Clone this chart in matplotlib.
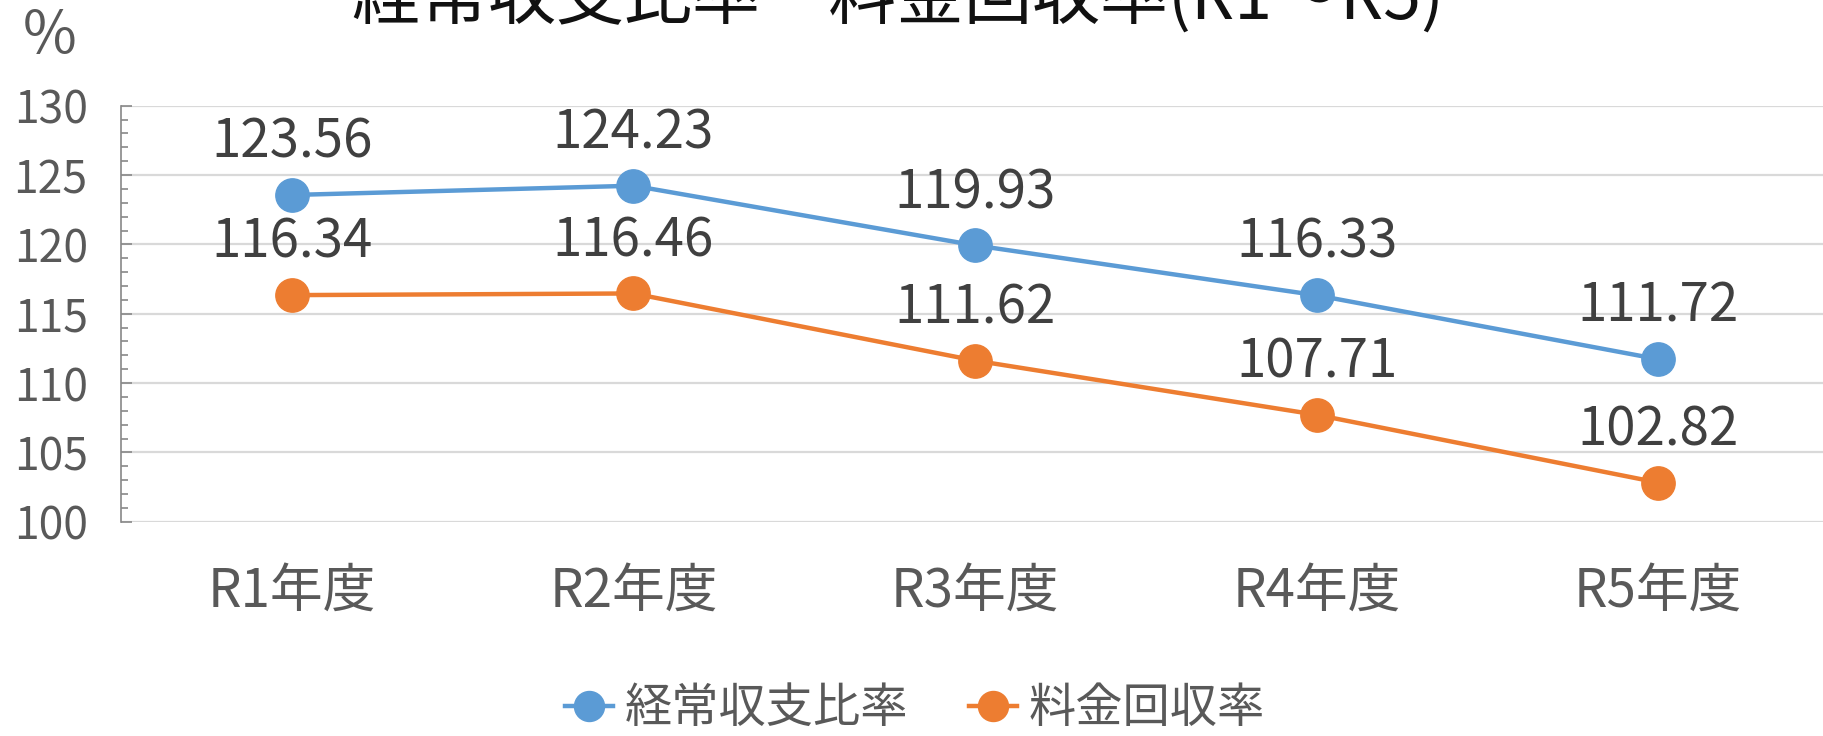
import matplotlib
matplotlib.use('Agg')
import matplotlib.pyplot as plt
from matplotlib.ticker import MultipleLocator

plt.rcParams['font.family'] = ['Noto Sans CJK JP', 'DejaVu Sans']

# data
years = ['R1年度', 'R2年度', 'R3年度', 'R4年度', 'R5年度']
keijo = [123.56, 124.23, 119.93, 116.33, 111.72]
ryokin = [116.34, 116.46, 111.62, 107.71, 102.82]
series_names = ['経常収支比率', '料金回収率']
title = '経常収支比率　料金回収率(R1～R5)'

blue = '#5B9BD5'
orange = '#ED7D31'
grid_clr = '#D9D9D9'
tick_clr = '#595959'
label_clr = '#404040'

fig = plt.figure(figsize=(18.24, 7.36), dpi=100)
# plot area: x 121..1829 px, y 105.7..521.7 px (from top)
ax = fig.add_axes([121 / 1824, (736 - 521.7) / 736, 1708 / 1824, 416 / 736])

x = list(range(len(years)))
for vals, clr, name in [(keijo, blue, series_names[0]), (ryokin, orange, series_names[1])]:
    ax.plot(x, vals, color=clr, lw=3.2, marker='o', ms=24, mec=clr, mfc=clr,
            label=name, zorder=3, clip_on=False)
    for xi, v in zip(x, vals):
        ax.annotate(f'{v:.2f}', (xi, v), xytext=(0, 38), textcoords='offset points',
                    ha='center', va='center', fontsize=38, color=label_clr)

ax.set_xlim(-0.5, len(years) - 0.5)
ax.set_ylim(100, 130)
ax.set_xticks(x)
ax.set_xticklabels(years)
ax.yaxis.set_major_locator(MultipleLocator(5))
ax.yaxis.set_minor_locator(MultipleLocator(1))

ax.grid(True, axis='y', color=grid_clr, lw=1.6, zorder=0)
ax.set_axisbelow(True)
for side in ['top', 'right', 'bottom']:
    ax.spines[side].set_visible(False)
ax.spines['left'].set_color('#888888')
ax.spines['left'].set_linewidth(1.2)

ax.tick_params(axis='y', which='major', direction='in', length=8, width=1.2,
               color='#888888', labelsize=32, labelcolor=tick_clr, pad=24)
ax.tick_params(axis='y', which='minor', direction='in', length=5, width=1.2,
               color='#888888')
ax.tick_params(axis='x', length=0, labelsize=38, labelcolor=tick_clr, pad=30)

# title is partly cut off by the top edge, like in the original
fig.text(898 / 1824, 1 - 19 / 736, title, ha='center', va='baseline',
         fontsize=49, color='#111111')
fig.text(50 / 1824, 1 - 36 / 736, '%', ha='center', va='center',
         fontsize=42, color=tick_clr)

leg = fig.legend(loc='center', bbox_to_anchor=(915 / 1824, 1 - 709 / 736), ncol=2,
                 frameon=False, fontsize=34, handlelength=1.0, handletextpad=0.25,
                 columnspacing=1.3, markerscale=0.9, borderpad=0, borderaxespad=0)
for t in leg.get_texts():
    t.set_color(tick_clr)

fig.savefig('out.png', dpi=100)
